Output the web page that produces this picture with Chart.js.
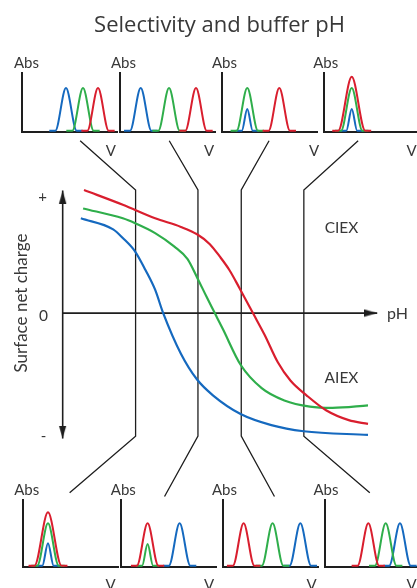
<!DOCTYPE html>
<html><head><meta charset="utf-8">
<script src="https://cdn.jsdelivr.net/npm/chart.js@4.4.1/dist/chart.umd.min.js"></script>
<style>
html,body{margin:0;padding:0;background:#fff;}
#wrap{position:relative;width:417px;height:588px;overflow:hidden;font-family:Lato,'Open Sans',sans-serif;color:#383838;}
canvas{position:absolute;}
.lbl{position:absolute;transform:translate(-50%,-50%);white-space:nowrap;line-height:1;}
</style></head><body>
<div id="wrap">
<canvas id="main" width="417" height="588" style="left:0;top:0;width:417px;height:588px"></canvas>
</div>
<script>
// ---------- data: main diagram (pH vs surface net charge) ----------
const redPH      = [0.95, 2.68, 4.12, 5.27, 5.99, 6.56, 7.00, 7.43, 7.86, 8.51, 9.01, 9.59, 10.16, 10.88, 11.74, 12.75, 13.61];
const redCharge  = [1.00, 0.88, 0.77, 0.70, 0.64, 0.56, 0.46, 0.35, 0.21, -0.01, -0.18, -0.40, -0.55, -0.67, -0.79, -0.87, -0.90];
const greenPH     = [0.91, 2.68, 3.23, 4.12, 4.98, 5.56, 5.99, 6.42, 6.78, 7.14, 7.93, 8.87, 9.88, 11.02, 12.03, 13.61];
const greenCharge = [0.85, 0.77, 0.73, 0.65, 0.54, 0.44, 0.29, 0.13, 0.00, -0.13, -0.42, -0.61, -0.71, -0.76, -0.77, -0.75];
const bluePH     = [0.81, 2.25, 2.68, 3.23, 3.69, 4.12, 4.48, 5.27, 5.99, 6.71, 7.93, 9.30, 10.74, 13.61];
const blueCharge = [0.77, 0.68, 0.61, 0.50, 0.35, 0.19, 0.00, -0.33, -0.54, -0.67, -0.82, -0.91, -0.96, -0.99];

// buffer pH lines and the funnels connecting them to chromatograms
const bufferPH        = [3.25, 6.03, 7.96, 10.75];
const funnelTopPH     = [0.78, 4.75, 9.20, 13.17];
const funnelBottomPH  = [0.31, 4.54, 9.44, 13.69];
const funnelTopCharge = [1.40, 1.40, 1.40, 1.40];
const funnelBottomCharge = [-1.46, -1.49, -1.49, -1.46];
const bufferChargeSpan = [1.0, -1.0];

// axes of main diagram
const chargeAxis = [0.995, -1.02];
const pHAxis = [0, 14.02];

// ---------- data: chromatograms (peak elution position V, peak height Abs) ----------
const topRedV   = [80.0, 80.0, 60.3, 29.2];  const topRedH   = [100, 100, 100, 126];
const topGreenV = [64.2, 51.6, 26.6, 29.2];  const topGreenH = [100, 100, 100, 100];
const topBlueV  = [46.3, 21.8, 26.6, 29.2];  const topBlueH  = [100, 100, 51, 51];
const botRedV   = [26.3, 28.0, 21.7, 45.6];  const botRedH   = [126, 100, 100, 100];
const botGreenV = [26.3, 28.0, 52.2, 63.9];  const botGreenH = [100, 51, 100, 100];
const botBlueV  = [26.3, 61.7, 81.4, 78.9];  const botBlueH  = [53, 100, 100, 100];

const RED = '#d91e2e', GREEN = '#2fae4b', BLUE = '#1569bf', INK = '#1e1e1e';

// ---------- helpers ----------
const zip = (xs, ys) => xs.map((x, i) => ({x, y: ys[i]}));
function arrowImg() {
  const c = document.createElement('canvas');
  c.width = 9; c.height = 26;
  const g = c.getContext('2d');
  g.fillStyle = INK;
  g.beginPath(); g.moveTo(4.5, 13); g.lineTo(8.2, 26); g.lineTo(0.8, 26); g.closePath(); g.fill();
  return c;
}
const ARROW = arrowImg();

// ---------- main chart ----------
const curve = (xs, ys, col) => ({data: zip(xs, ys), borderColor: col, borderWidth: 2.2,
  pointRadius: 0, cubicInterpolationMode: 'monotone', fill: false});
const mainSets = [
  curve(redPH, redCharge, RED),
  curve(greenPH, greenCharge, GREEN),
  curve(bluePH, blueCharge, BLUE),
];
bufferPH.forEach((p, i) => {
  mainSets.push({data: [
      {x: funnelTopPH[i], y: funnelTopCharge[i]},
      {x: p, y: bufferChargeSpan[0]},
      {x: p, y: bufferChargeSpan[1]},
      {x: funnelBottomPH[i], y: funnelBottomCharge[i]}],
    borderColor: INK, borderWidth: 1.3, pointRadius: 0, tension: 0});
});
mainSets.push({data: [{x: 0, y: chargeAxis[0]}, {x: 0, y: chargeAxis[1]}],
  borderColor: INK, borderWidth: 1.6, pointStyle: ARROW, pointRadius: [5, 5], pointRotation: [0, 180], tension: 0});
mainSets.push({data: [{x: pHAxis[0], y: 0}, {x: pHAxis[1], y: 0}],
  borderColor: INK, borderWidth: 1.6, pointStyle: ARROW, pointRadius: [0, 5], pointRotation: [0, 90], tension: 0});

new Chart(document.getElementById('main'), {
  type: 'line',
  data: {datasets: mainSets},
  options: {
    responsive: false, animation: false, events: [],
    layout: {padding: 0},
    plugins: {legend: {display: false}, tooltip: {enabled: false}, title: {display: false}},
    scales: {
      x: {type: 'linear', min: -2.5, max: 15.5, display: false},
      y: {type: 'linear', min: -2.18, max: 2.49, display: false}
    }
  }
});

// ---------- chromatogram panels ----------
function peak(c, h) {
  const w = 0.1126 * h, t = 6.3;
  return [{x: c - w - t, y: 0}, {x: c - w, y: 0}, {x: c, y: h}, {x: c + w, y: 0}, {x: c + w + t, y: 0}];
}
const wrap = document.getElementById('wrap');
function panel(left, top, h, ymax, peaks) {
  const cv = document.createElement('canvas');
  cv.width = 100; cv.height = h + 5;
  cv.style.left = (left - 3) + 'px'; cv.style.top = (top - 2) + 'px';
  cv.style.width = '100px'; cv.style.height = (h + 5) + 'px';
  wrap.appendChild(cv);
  new Chart(cv, {
    type: 'line',
    data: {datasets: peaks.map(([c, hh, col]) => ({data: peak(c, hh), borderColor: col, borderWidth: 2,
      pointRadius: 0, cubicInterpolationMode: 'monotone', fill: false}))},
    options: {
      responsive: false, animation: false, events: [],
      layout: {padding: {left: 3, right: 2, top: 2, bottom: 3}},
      plugins: {legend: {display: false}, tooltip: {enabled: false}},
      scales: {
        x: {type: 'linear', min: 0, max: 100, grid: {display: false, drawTicks: false, tickLength: 0},
            ticks: {display: false}, border: {display: true, color: INK, width: 2}},
        y: {type: 'linear', min: -3, max: ymax, grid: {display: false, drawTicks: false, tickLength: 0},
            ticks: {display: false}, border: {display: true, color: INK, width: 2}}
      }
    }
  });
}
const topLefts = [22, 120, 222, 324];
const botLefts = [23, 121, 223, 325];
for (let i = 0; i < 4; i++) {
  panel(topLefts[i], 73, 59, 135, [[topRedV[i], topRedH[i], RED], [topGreenV[i], topGreenH[i], GREEN], [topBlueV[i], topBlueH[i], BLUE]]);
  panel(botLefts[i], 500, 67, 155, [[botRedV[i], botRedH[i], RED], [botGreenV[i], botGreenH[i], GREEN], [botBlueV[i], botBlueH[i], BLUE]]);
}

// ---------- text ----------
const labels = [
  ['Abs', 26.5, 62, 15], ['Abs', 123.5, 62, 15], ['Abs', 224.5, 62, 15], ['Abs', 325.7, 62, 15],
  ['Abs', 26.7, 489, 15], ['Abs', 123.3, 489, 15], ['Abs', 224.5, 489, 15], ['Abs', 326, 489, 15],
  ['V', 110.8, 150, 15], ['V', 209, 150, 15], ['V', 314, 150, 15], ['V', 411.5, 150, 15],
  ['V', 110.5, 584, 15], ['V', 209, 584, 15], ['V', 311.7, 584, 15], ['V', 411.7, 584, 15],
  ['+', 42.5, 196, 15], ['0', 43.5, 315.5, 15.5], ['-', 43.5, 435, 15],
  ['pH', 397.5, 313, 16], ['CIEX', 341.5, 228, 15.5], ['AIEX', 341.5, 378, 15.5]
];
labels.forEach(([t, x, y, s]) => {
  const d = document.createElement('div');
  d.className = 'lbl'; d.textContent = t;
  d.style.left = x + 'px'; d.style.top = y + 'px'; d.style.fontSize = s + 'px';
  wrap.appendChild(d);
});
const title = document.createElement('div');
title.className = 'lbl'; title.textContent = 'Selectivity and buffer pH';
title.style.left = '219.5px'; title.style.top = '23px'; title.style.fontSize = '22px';
title.style.fontFamily = "'Open Sans', Lato, sans-serif";
wrap.appendChild(title);
const yl = document.createElement('div');
yl.className = 'lbl'; yl.textContent = 'Surface net charge';
yl.style.left = '20px'; yl.style.top = '302.5px'; yl.style.fontSize = '17px';
yl.style.transform = 'translate(-50%,-50%) rotate(-90deg)';
wrap.appendChild(yl);
</script>
</body></html>
